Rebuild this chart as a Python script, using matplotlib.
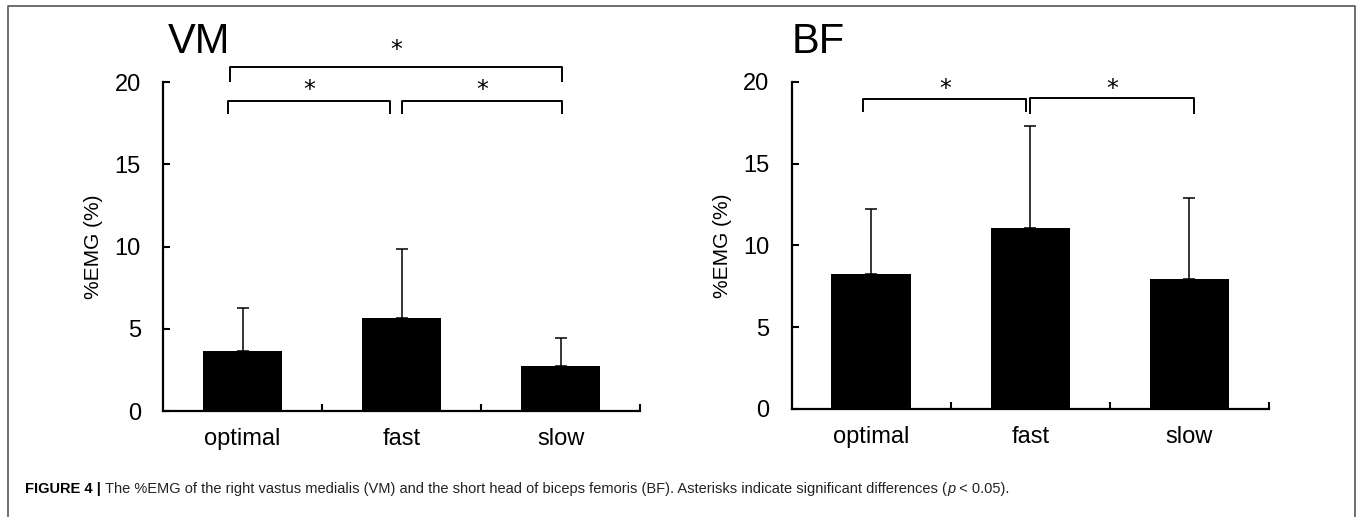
import matplotlib
matplotlib.use("Agg")
import matplotlib.pyplot as plt
from matplotlib.lines import Line2D
from matplotlib import font_manager

plt.rcParams['font.family'] = ['Liberation Sans', 'DejaVu Sans']

categories = ["optimal", "fast", "slow"]
vm_mean = [3.65, 5.67, 2.75]
vm_sd = [2.63, 4.18, 1.67]
bf_mean = [8.23, 11.04, 7.96]
bf_sd = [4.01, 6.25, 4.91]
y_ticks = [0, 5, 10, 15, 20]

# significance brackets: (x start, x end, bracket y, tick bottom y, star y)
vm_brackets = [(-0.09, 0.93, 18.85, 18.1, 19.65), (1.0, 2.01, 18.85, 18.1, 19.65),
               (-0.08, 2.01, 20.9, 20.1, 22.1)]
bf_brackets = [(-0.05, 0.975, 18.95, 18.2, 19.7), (1.0, 2.03, 19.0, 18.1, 19.7)]

names = {f.name for f in font_manager.fontManager.ttflist}
cap_font = ['Liberation Sans Narrow', 'DejaVu Sans'] if 'Liberation Sans Narrow' in names else ['Liberation Sans', 'DejaVu Sans']
cap_size = 13 if 'Liberation Sans Narrow' in names else 10.5


def draw_panel(ax, means, sds, brackets, title, title_x):
    x = list(range(len(categories)))
    ax.bar(x, means, width=0.5, color="black", zorder=2)
    ax.errorbar(x, means, yerr=[[0] * len(sds), sds], fmt="none", ecolor="black",
                elinewidth=1.1, capsize=4.5, capthick=1.1, zorder=1)
    ax.set_xlim(-0.5, 2.5)
    ax.set_ylim(0, 20)
    ax.set_yticks(y_ticks)
    ax.set_xticks(x)
    ax.set_xticklabels(categories, fontsize=17)
    ax.set_xticks([0.5, 1.5, 2.5], minor=True)
    ax.tick_params(axis="x", which="major", length=0, pad=12)
    ax.tick_params(axis="x", which="minor", direction="in", length=5, width=1.5)
    ax.tick_params(axis="y", direction="in", length=5, width=1.5, labelsize=17, pad=16)
    for s in ["top", "right"]:
        ax.spines[s].set_visible(False)
    for s in ["left", "bottom"]:
        ax.spines[s].set_linewidth(1.6)
    ax.set_ylabel("%EMG (%)", fontsize=15, labelpad=8)
    # brackets with stars
    for x0, x1, yb, yt, ys in brackets:
        ax.plot([x0, x0, x1, x1], [yt, yb, yb, yt], color="black", lw=1.4,
                clip_on=False)
        ax.text((x0 + x1) / 2, ys, "*", ha="center", va="center_baseline",
                fontsize=17, clip_on=False, family=['DejaVu Sans'])
    ax.text(title_x, 1.06, title, transform=ax.transAxes, fontsize=30,
            ha="left", va="bottom")


fig = plt.figure(figsize=(13.6, 5.17), dpi=100)
ax1 = fig.add_axes([0.1199, 0.205, 0.3507, 0.636])
ax2 = fig.add_axes([0.5821, 0.2089, 0.351, 0.633])
draw_panel(ax1, vm_mean, vm_sd, vm_brackets, "VM", 0.01)
draw_panel(ax2, bf_mean, bf_sd, bf_brackets, "BF", 0.0)

# outer frame (open at bottom)
fc = "#555555"
fig.add_artist(Line2D([8 / 1360, 8 / 1360, 1355 / 1360, 1355 / 1360],
                      [0, 1 - 6 / 517, 1 - 6 / 517, 0], color=fc, lw=1.2,
                      transform=fig.transFigure))

# caption, pieces chained one after another
cap_y = 1 - 493 / 517
a = fig.text(25 / 1360, cap_y, "FIGURE 4 | ", fontsize=cap_size, fontweight="bold",
             va="baseline", ha="left", family=cap_font)
b = fig.add_artist(matplotlib.text.Annotation(
    "The %EMG of the right vastus medialis (VM) and the short head of biceps "
    "femoris (BF). Asterisks indicate significant differences (",
    xy=(1, 0), xycoords=a, fontsize=cap_size, va="bottom", ha="left",
    family=cap_font, color="#222222"))
c = fig.add_artist(matplotlib.text.Annotation(
    "p", xy=(1, 0), xycoords=b, fontsize=cap_size, style="italic",
    va="bottom", ha="left", family=cap_font, color="#222222"))
d = fig.add_artist(matplotlib.text.Annotation(
    " < 0.05).", xy=(1, 0), xycoords=c, fontsize=cap_size,
    va="bottom", ha="left", family=cap_font, color="#222222"))

fig.savefig("out.png", dpi=100)
